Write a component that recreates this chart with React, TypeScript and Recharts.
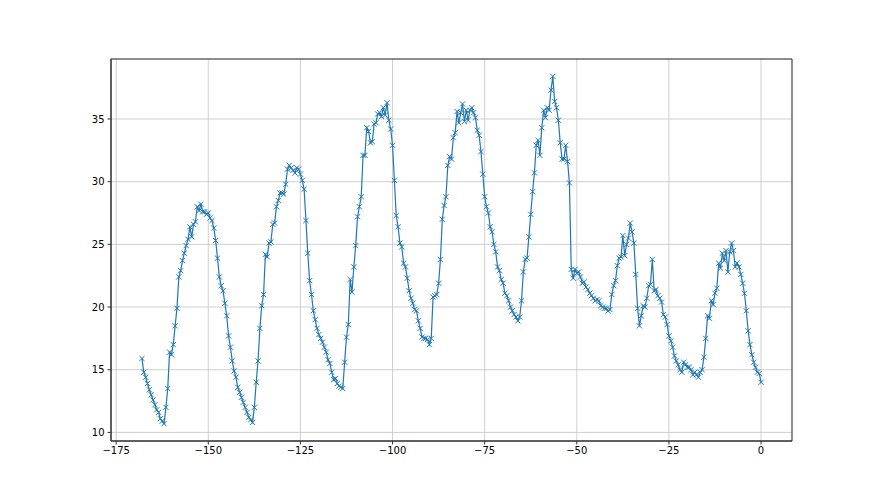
import React from "react";
import {
  LineChart,
  Line,
  XAxis,
  YAxis,
  CartesianGrid,
  ReferenceArea,
} from "recharts";

// half-hourly readings, first one at hour -168, last at hour 0
const START_HOUR = -168;
const STEP = 0.5;

const temps = [
  15.9, 14.8, 14.4, 13.9, 13.4, 13.0, 12.6, 12.2, 11.8, 11.6,
  11.1, 10.9, 10.7, 12.0, 13.5, 16.4, 16.2, 17.0, 18.5, 19.9,
  22.4, 22.9, 23.7, 24.3, 24.9, 25.4, 26.4, 25.6, 26.6, 26.8,
  28.0, 27.7, 28.2, 27.6, 27.6, 27.4, 27.5, 27.1, 26.9, 26.3,
  25.3, 23.9, 22.4, 21.7, 21.3, 20.3, 19.3, 17.7, 16.8, 15.7,
  14.9, 14.4, 13.6, 13.2, 12.8, 12.4, 12.0, 11.6, 11.2, 11.0,
  10.8, 12.0, 14.0, 15.7, 18.3, 20.1, 21.0, 24.2, 24.0, 25.1,
  25.2, 26.6, 26.7, 28.0, 28.5, 29.1, 29.1, 29.0, 29.8, 31.0,
  31.3, 31.1, 30.9, 30.7, 31.1, 31.0, 30.6, 30.1, 29.4, 26.9,
  24.3, 22.1, 21.0, 19.7, 19.0, 18.3, 17.8, 17.5, 17.2, 16.8,
  16.4, 15.8, 15.5, 14.8, 14.2, 14.3, 13.9, 13.7, 13.6, 13.5,
  15.6, 17.6, 18.6, 22.2, 21.2, 23.2, 24.9, 27.2, 28.0, 28.8,
  32.1, 32.1, 34.3, 34.0, 33.1, 33.2, 34.6, 34.7, 35.4, 35.5,
  35.2, 35.9, 35.3, 36.3, 34.9, 34.2, 32.9, 30.1, 27.3, 26.4,
  25.1, 24.8, 23.5, 23.2, 22.3, 21.3, 20.7, 20.3, 19.8, 19.7,
  18.9, 18.3, 17.6, 17.5, 17.5, 17.4, 17.0, 17.5, 20.8, 20.9,
  21.0, 21.9, 23.8, 27.0, 28.1, 28.8, 31.3, 32.0, 31.8, 33.5,
  33.9, 35.6, 34.7, 35.5, 36.2, 34.8, 35.7, 34.9, 35.7, 35.9,
  35.5, 35.1, 34.1, 33.7, 32.4, 30.6, 28.8, 28.0, 27.5, 26.4,
  26.0, 25.0, 24.4, 23.2, 22.9, 22.2, 21.9, 21.1, 20.9, 20.5,
  20.0, 19.7, 19.4, 19.2, 18.9, 19.2, 20.5, 22.8, 23.8, 23.9,
  25.6, 27.4, 29.2, 30.7, 32.9, 33.3, 32.1, 34.3, 35.7, 35.1,
  35.9, 35.7, 37.3, 38.4, 36.4, 35.9, 34.9, 33.1, 31.8, 31.8,
  32.9, 31.6, 29.9, 23.0, 22.3, 23.0, 22.7, 22.8, 22.4, 21.9,
  22.0, 21.6, 21.4, 21.1, 20.9, 20.7, 20.5, 20.6, 20.5, 20.1,
  20.0, 19.9, 19.9, 19.7, 19.8, 21.0, 21.7, 22.1, 23.3, 23.9,
  24.0, 25.7, 24.1, 25.0, 25.5, 26.7, 26.0, 25.1, 22.6, 19.9,
  18.5, 19.3, 20.1, 20.0, 20.7, 21.7, 21.8, 23.8, 21.3, 21.4,
  20.9, 20.7, 20.4, 19.4, 19.2, 18.6, 17.7, 17.3, 16.8, 16.1,
  15.7, 15.4, 15.0, 14.8, 15.6, 15.4, 15.2, 15.2, 15.0, 14.6,
  14.8, 14.6, 14.4, 14.8, 15.0, 16.0, 17.5, 19.3, 19.1, 20.5,
  20.2, 21.1, 21.5, 23.5, 23.1, 24.3, 23.7, 24.5, 22.8, 24.4,
  25.1, 24.5, 23.2, 23.5, 23.2, 22.6, 21.9, 21.1, 19.7, 18.1,
  17.0, 16.2, 15.6, 15.2, 14.8, 14.7, 14.0,
];

const xTicks = [-175, -150, -125, -100, -75, -50, -25, 0];
const yTicks = [10, 15, 20, 25, 30, 35];

const LINE_BLUE = "#1f77b4";
const FONT = "'DejaVu Sans', sans-serif";

const data = temps.map((t, i) => ({ hour: START_HOUR + i * STEP, temp: t }));

// matplotlib-ish autoscale: 5% padding on both axes
const xMin = START_HOUR;
const xMax = START_HOUR + (temps.length - 1) * STEP;
const yMin = Math.min(...temps);
const yMax = Math.max(...temps);
const xDomain = [xMin - (xMax - xMin) * 0.05, xMax + (xMax - xMin) * 0.05];
const yDomain = [yMin - (yMax - yMin) * 0.05, yMax + (yMax - yMin) * 0.05];

// matplotlib prints a real minus sign
const fmtTick = (v: number) => String(v).replace("-", "\u2212");

function CrossDot(props: any) {
  const { cx, cy } = props;
  if (cx == null || cy == null) return null;
  const r = 2.6;
  return (
    <g stroke={LINE_BLUE} strokeWidth={1}>
      <line x1={cx - r} y1={cy - r} x2={cx + r} y2={cy + r} />
      <line x1={cx - r} y1={cy + r} x2={cx + r} y2={cy - r} />
    </g>
  );
}

const tickStyle = { fontSize: 10, fill: "#000", fontFamily: FONT };

export default function App() {
  return (
    <div style={{ position: "absolute", left: 0, top: 0, width: 880, height: 495, background: "#fff" }}>
      <LineChart
        width={880}
        height={495}
        data={data}
        margin={{ top: 59, right: 88, bottom: 24, left: 71 }}
      >
        <CartesianGrid stroke="#c4c4c4" strokeWidth={0.8} />
        <XAxis
          dataKey="hour"
          type="number"
          domain={xDomain}
          ticks={xTicks}
          tickFormatter={fmtTick}
          allowDataOverflow
          tick={tickStyle}
          tickSize={3.5}
          tickMargin={2}
          height={30}
          stroke="#333"
          interval={0}
        />
        <YAxis
          type="number"
          domain={yDomain}
          ticks={yTicks}
          allowDataOverflow
          tick={tickStyle}
          tickSize={3.5}
          tickMargin={3}
          width={40}
          stroke="#333"
          interval={0}
        />
        {/* axes frame (top and right spines) */}
        <ReferenceArea
          x1={xDomain[0]}
          x2={xDomain[1]}
          y1={yDomain[0]}
          y2={yDomain[1]}
          fill="none"
          fillOpacity={0}
          stroke="#333"
          strokeWidth={1}
          ifOverflow="extendDomain"
        />
        <Line
          type="linear"
          dataKey="temp"
          stroke={LINE_BLUE}
          strokeWidth={1.2}
          dot={<CrossDot />}
          activeDot={false}
          isAnimationActive={false}
        />
      </LineChart>
    </div>
  );
}
